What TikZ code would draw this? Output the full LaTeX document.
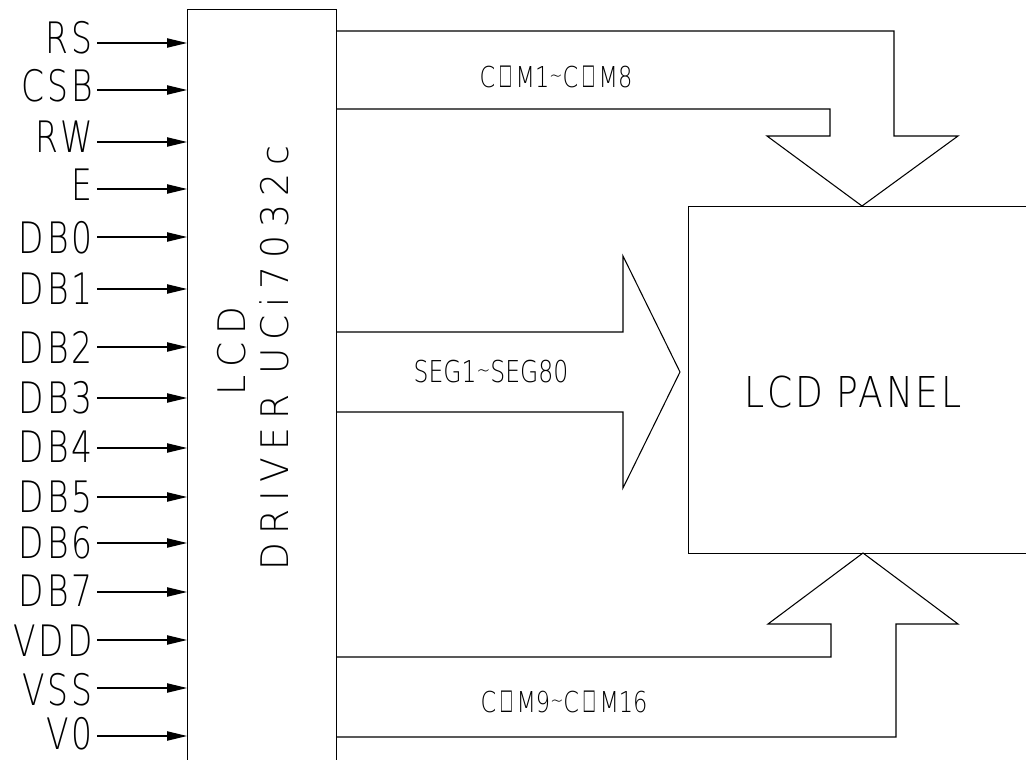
\documentclass[tikz,border=0pt]{standalone}
\usepackage{fontspec}
\usetikzlibrary{arrows.meta}
\newfontfamily\cadpin{DejaVuSans-ExtraLight.ttf}[FakeStretch=0.76,LetterSpace=7]
\newfontfamily\cadvert{DejaVuSans-ExtraLight.ttf}[FakeStretch=0.95,LetterSpace=21]
\newfontfamily\cadbus{DejaVuSans-ExtraLight.ttf}[FakeStretch=0.78]
\newfontfamily\cadpanel{DejaVuSans-ExtraLight.ttf}[FakeStretch=0.85,LetterSpace=6]
\newfontfamily\boxglyph{Liberation Sans}
\newcommand\obox{\,\scalebox{0.62}[1.25]{\boxglyph\symbol{"25A1}}\,}
\newcommand\tld{\raisebox{4pt}{\scalebox{0.7}{\char`\~}}}
\begin{document}
\begin{tikzpicture}[x=0.75pt,y=-0.75pt,
  wire/.style={line width=0.8pt,draw=black},
  pinarrow/.style={wire,-{Triangle[length=15pt,width=7pt]}},
  pinlabel/.style={inner sep=0pt,anchor=east,font=\cadpin\fontsize{32.5}{33}\selectfont},
  vertlabel/.style={inner sep=0pt,rotate=90,font=\cadvert\fontsize{28.5}{29}\selectfont},
  buslabel/.style={inner sep=0pt},
  box/.style={wire,inner sep=0pt,anchor=north west},
  bus/.style={wire,line join=miter}]
\useasboundingbox (0,0) rectangle (1026,760);
% driver chip (continues below the page)
\node[box,minimum width=111.75pt,minimum height=600pt] (drv) at (187,9) {};
\node[vertlabel] (drvl1) at (232,351) {LCD};
\node[vertlabel] (drvl2) at (274,358) {DRIVER UCi7032c};
% LCD panel (continues beyond the right edge)
\node[box,minimum width=270pt,minimum height=260.25pt] (panel) at (688,206) {};
\node[inner sep=0pt,font=\cadpanel\fontsize{31.9}{32}\selectfont] (panell) at (853,392) {LCD PANEL};
% input pins: name / wire y / label centre y
\foreach \nm/\yy/\cy in {RS/43/38,CSB/90/86,RW/142/137,E/189/185,DB0/237/238,DB1/289/289,DB2/347/347,DB3/398/398,DB4/448/447,DB5/497/497,DB6/543/543,DB7/592/591,VDD/640/641,VSS/688/690,V0/736/734}{
  \node[pinlabel] (p\nm) at (93,\cy) {\nm};
  \draw[pinarrow] ([xshift=3pt]p\nm.east |- 0,\yy) -- (drv.west |- 0,\yy);
}
% COM1~COM8 bus arrow
\draw[bus] (336,31) -- (894,31) -- (894,136) -- (958,136) -- (862,206)
  -- (767,136) -- (830,136) -- (830,109) -- (336,109);
\node[buslabel,font=\cadbus\fontsize{21.6}{22}\selectfont] (com1) at (556,77) {C\obox M1\tld C\obox M8};
% SEG1~SEG80 bus arrow
\draw[bus] (336,332) -- (623,332) -- (623,256) -- (680,372) -- (623,488)
  -- (623,412) -- (336,412);
\node[buslabel,font=\cadbus\fontsize{22.6}{23}\selectfont] (seg) at (491,372) {SEG1\tld SEG80};
% COM9~COM16 bus arrow
\draw[bus] (336,737) -- (896,737) -- (896,624) -- (958,624) -- (863,553)
  -- (768,624) -- (831,624) -- (831,657) -- (336,657);
\node[buslabel,font=\cadbus\fontsize{21.6}{22}\selectfont] (com9) at (564,702) {C\obox M9\tld C\obox M16};
\end{tikzpicture}
\end{document}
